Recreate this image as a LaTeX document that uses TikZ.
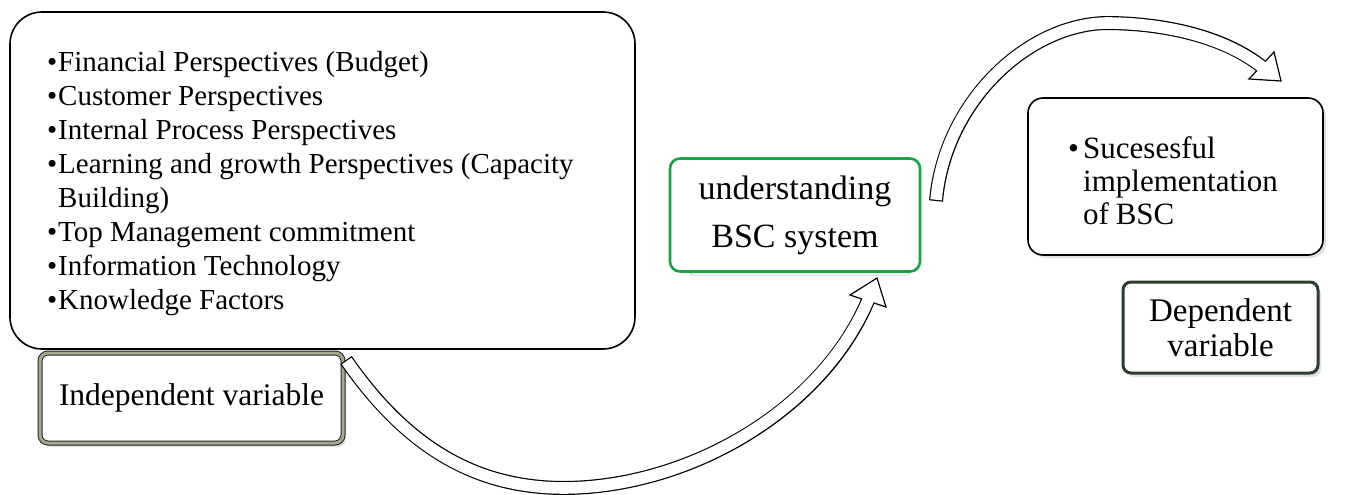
\documentclass[tikz,border=0pt]{standalone}
\usepackage{fontspec}
\setmainfont{Liberation Serif}
\usetikzlibrary{calc}
\definecolor{khaki}{RGB}{168,166,140}
\definecolor{boxgreen}{RGB}{30,160,70}
\definecolor{darkbox}{RGB}{45,60,45}
\definecolor{shade}{RGB}{110,110,110}
\tikzset{
  bigtext/.style={anchor=base west, inner sep=0pt, font=\fontsize{29}{34}\selectfont},
  plainbox/.style={draw=black, line width=1.6pt, fill=white},
  softshadow/.style={fill=black!12},
  shaftout/.style={line width=14pt, draw=black},
  shaftin/.style={line width=11.6pt, draw=white},
  headstyle/.style={draw=black, line width=1.2pt, fill=white, line join=miter},
}
\begin{document}
\begin{tikzpicture}[x=1pt,y=-1pt]
\useasboundingbox (0,0) rectangle (1349,495);
% ---------- boxes ----------
% big left box
\node[plainbox, rounded corners=32pt, minimum width=625pt, minimum height=337pt, inner sep=0pt] (big) at (322.5,180.5) {};
\node[bigtext] (l1) at (47,71) {\makebox[11pt][l]{\textbullet}Financial Perspectives (Budget)};
\node[bigtext] (l2) at (47,105) {\makebox[11pt][l]{\textbullet}Customer Perspectives};
\node[bigtext] (l3) at (47,139) {\makebox[11pt][l]{\textbullet}Internal Process Perspectives};
\node[bigtext] (l4) at (47,173) {\makebox[11pt][l]{\textbullet}Learning and growth Perspectives (Capacity};
\node[bigtext] (l5) at (47,207) {\hspace*{11pt}Building)};
\node[bigtext] (l6) at (47,241) {\makebox[11pt][l]{\textbullet}Top Management commitment};
\node[bigtext] (l7) at (47,275) {\makebox[11pt][l]{\textbullet}Information Technology};
\node[bigtext] (l8) at (47,309) {\makebox[11pt][l]{\textbullet}Knowledge Factors};
% independent variable
\fill[softshadow, rounded corners=8pt] (43,357) rectangle (346,447);
\node[draw=black!85, line width=1pt, double=khaki, double distance=3pt, fill=white,
      rounded corners=8pt, minimum width=303pt, minimum height=90pt, inner sep=0pt,
      font=\fontsize{31.5}{36}\selectfont] (indep) at (191.5,398) {Independent variable};
% understanding BSC
\fill[shade, rounded corners=6pt] (688,258) rectangle (912,275);
\node[draw=boxgreen, line width=2.6pt, fill=white, rounded corners=10pt,
      minimum width=250pt, minimum height=113pt, inner sep=0pt, align=center,
      font=\fontsize{34}{48}\selectfont] (mid) at (795,215) {understanding\\BSC system};
% successful implementation
\fill[softshadow, rounded corners=15pt] (1031,101) rectangle (1326,258);
\node[plainbox, rounded corners=15pt, minimum width=295pt, minimum height=157pt, inner sep=0pt] (succ) at (1175.5,176.5) {};
\node[anchor=base west, inner sep=0pt, font=\fontsize{31}{33}\selectfont] (s1) at (1068,158)
  {\makebox[15pt][l]{\textbullet}Sucesesful};
\node[anchor=base west, inner sep=0pt, font=\fontsize{31}{33}\selectfont] (s2) at (1083,191) {implementation};
\node[anchor=base west, inner sep=0pt, font=\fontsize{31}{33}\selectfont] (s3) at (1083,224) {of\kern-1pt\ BSC};
% dependent variable
\fill[softshadow, rounded corners=8pt] (1126,286) rectangle (1321,377);
\node[draw=darkbox, line width=3pt, fill=white, rounded corners=8pt,
      minimum width=195pt, minimum height=91pt, inner sep=0pt, align=center,
      font=\fontsize{33}{35}\selectfont] (dep) at (1220.5,327.5) {Dependent\\variable};
% ---------- curved block arrows ----------
\coordinate (a1s) at (346,360);
\coordinate (a1b) at (868,300.5);
\coordinate (a1t) at (877,278);
\coordinate (a1l) at (850,295);
\coordinate (a1r) at (886,307);
\draw[shaftout] (a1s) .. controls (410,452) and (480,488) .. (565,488) .. controls (690,487) and (822,410) .. (a1b);
\draw[headstyle] (a1l) -- (a1t) -- (a1r) -- cycle;
\draw[shaftin, shorten <=1.2pt, shorten >=-2pt] (a1s) .. controls (410,452) and (480,488) .. (565,488) .. controls (690,487) and (822,410) .. (a1b);

\coordinate (a2s) at (936,201);
\coordinate (a2b) at (1261,66);
\coordinate (a2t) at (1281,81);
\coordinate (a2l) at (1249,79);
\coordinate (a2r) at (1274,52);
\draw[shaftout] (a2s) .. controls (945,100) and (1030,22) .. (1110,23) .. controls (1170,24) and (1225,38) .. (a2b);
\draw[headstyle] (a2l) -- (a2t) -- (a2r) -- cycle;
\draw[shaftin, shorten <=1.2pt, shorten >=-2pt] (a2s) .. controls (945,100) and (1030,22) .. (1110,23) .. controls (1170,24) and (1225,38) .. (a2b);
\end{tikzpicture}
\end{document}
